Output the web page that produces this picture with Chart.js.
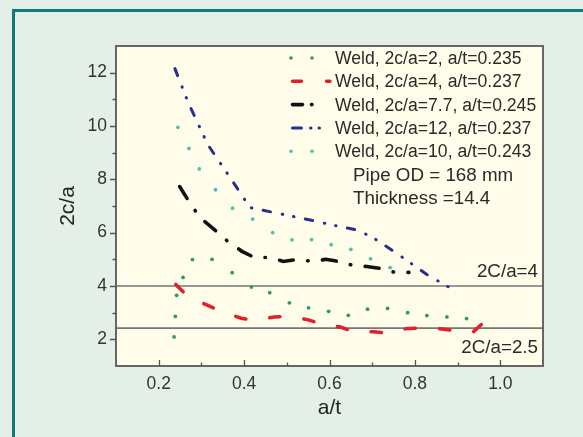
<!DOCTYPE html>
<html><head><meta charset="utf-8">
<script src="https://cdn.jsdelivr.net/npm/chart.js@4.4.1/dist/chart.umd.min.js"></script>
<style>html,body{margin:0;padding:0;background:#e4f0e7;}canvas{display:block;}</style>
</head><body>
<canvas id="c" width="583" height="437"></canvas>
<script>
// ---- data ----
const seriesLabels = [
  'Weld, 2c/a=2, a/t=0.235',
  'Weld, 2c/a=4, a/t=0.237',
  'Weld, 2c/a=7.7, a/t=0.245',
  'Weld, 2c/a=12, a/t=0.237',
  'Weld, 2c/a=10, a/t=0.243'
];
const greenX = [0.236,0.239,0.242,0.257,0.279,0.325,0.372,0.417,0.460,0.506,0.551,0.598,0.644,0.689,0.736,0.783,0.828,0.875,0.921];
const greenY = [2.09,2.86,3.65,4.32,4.99,5.00,4.50,3.96,3.75,3.37,3.18,3.05,2.90,3.13,3.16,3.00,2.89,2.84,2.78];
const redX = [0.240,0.268,0.315,0.346,0.393,0.426,0.471,0.500,0.548,0.579,0.626,0.657,0.703,0.734,0.779,0.810,0.857,0.889,0.936,0.972];
const redY = [4.06,3.61,3.27,3.05,2.79,2.71,2.84,2.86,2.74,2.59,2.46,2.28,2.28,2.24,2.40,2.42,2.40,2.34,2.27,2.79];
const blackX = [0.249,0.275,0.299,0.327,0.362,0.395,0.424,0.461,0.492,0.525,0.560,0.591,0.621,0.656,0.687,0.720,0.753,0.786];
const blackY = [7.73,7.06,6.53,6.16,5.67,5.30,5.07,5.07,4.92,5.00,4.92,5.00,4.92,4.77,4.73,4.66,4.51,4.51];
const blueX = [0.238,0.268,0.315,0.367,0.414,0.468,0.539,0.612,0.668,0.708,0.758,0.828,0.901];
const blueY = [12.15,10.92,9.30,8.07,6.94,6.76,6.53,6.27,6.09,5.75,5.22,4.43,3.76];
const cyanX = [0.245,0.271,0.295,0.333,0.373,0.420,0.467,0.512,0.558,0.604,0.650,0.696,0.742];
const cyanY = [9.95,9.16,8.39,7.61,6.92,6.51,6.00,5.73,5.74,5.55,5.37,5.02,4.69];
const refLineY = [4, 2.42];
const refLineLabels = ['2C/a=4', '2C/a=2.5'];
const noteLines = ['Pipe OD = 168 mm', 'Thickness =14.4'];
const xTickValues = [0.2, 0.4, 0.6, 0.8, 1.0];
const yTickValues = [2, 4, 6, 8, 10, 12];
const xMinorValues = [0.3, 0.5, 0.7, 0.9];
const yMinorValues = [3, 5, 7, 9, 11];
const xRange = [0.1, 1.1];
const yRange = [1, 13];

const toPts = (xs, ys) => xs.map((x, i) => ({x: x, y: ys[i]}));
const FONT = '"Liberation Sans", Arial, sans-serif';
const C = {green:'#2e9a62', red:'#e3202a', black:'#111111', blue:'#26308e', cyan:'#4cc0b6', ref:'#767676'};

const datasets = [
  {label: seriesLabels[0], data: toPts(greenX, greenY), showLine: false, pointRadius: 1.9,
   pointBackgroundColor: C.green, pointBorderColor: C.green, pointBorderWidth: 0, legendType: 'dots', legendColor: C.green},
  {label: seriesLabels[1], data: toPts(redX, redY), showLine: true, borderColor: C.red, borderWidth: 3.5,
   borderDash: [10.5, 24], borderCapStyle: 'round', pointRadius: 0, legendType: 'line', legendDash: [9, 25], legendLen: 39},
  {label: seriesLabels[2], data: toPts(blackX, blackY), showLine: true, borderColor: C.black, borderWidth: 3.6,
   borderDash: [14, 14.5, 0.5, 14.5], borderCapStyle: 'round', pointRadius: 0, legendType: 'line', legendDash: [10, 9, 0.5, 9], legendLen: 22},
  {label: seriesLabels[3], data: toPts(blueX, blueY), showLine: true, borderColor: C.blue, borderWidth: 3,
   borderDash: [7.5, 12, 0.5, 11, 0.5, 11.5], borderCapStyle: 'round', pointRadius: 0, legendType: 'line', legendDash: [9, 9, 0.5, 8, 0.5, 8], legendLen: 31},
  {label: seriesLabels[4], data: toPts(cyanX, cyanY), showLine: false, pointRadius: 1.9,
   pointBackgroundColor: C.cyan, pointBorderColor: C.cyan, pointBorderWidth: 0, legendType: 'dots', legendColor: C.cyan}
];
refLineY.forEach(v => datasets.push({label: 'ref', data: [{x: xRange[0], y: v}, {x: xRange[1], y: v}], showLine: true,
  borderColor: C.ref, borderWidth: 1.6, pointRadius: 0, isRef: true}));

const deco = {
  id: 'deco',
  beforeDraw(chart) {
    const {ctx, chartArea: a} = chart;
    ctx.save();
    ctx.fillStyle = '#e4f0e7';
    ctx.fillRect(0, 0, chart.width, chart.height);
    ctx.strokeStyle = '#127a77';
    ctx.lineWidth = 3;
    ctx.beginPath();
    ctx.moveTo(13.5, chart.height); ctx.lineTo(13.5, 10.5); ctx.lineTo(chart.width, 10.5);
    ctx.stroke();
    ctx.fillStyle = '#fffdea';
    ctx.fillRect(a.left, a.top, a.right - a.left, a.bottom - a.top);
    ctx.restore();
  },
  afterDraw(chart) {
    const {ctx, chartArea: a, scales} = chart;
    const xs = scales.x, ys = scales.y;
    ctx.save();
    // frame
    ctx.strokeStyle = '#666';
    ctx.lineWidth = 2;
    ctx.strokeRect(a.left, a.top, a.right - a.left, a.bottom - a.top);
    // ticks
    ctx.strokeStyle = '#555';
    ctx.lineWidth = 1.3;
    ctx.beginPath();
    yTickValues.forEach(v => { const p = Math.round(ys.getPixelForValue(v)) + 0.5; ctx.moveTo(a.left - 6, p); ctx.lineTo(a.left, p); });
    yMinorValues.forEach(v => { const p = Math.round(ys.getPixelForValue(v)) + 0.5; ctx.moveTo(a.left - 3.5, p); ctx.lineTo(a.left, p); });
    xTickValues.forEach(v => { const p = Math.round(xs.getPixelForValue(v)) + 0.5; ctx.moveTo(p, a.bottom); ctx.lineTo(p, a.bottom - 6); });
    xMinorValues.forEach(v => { const p = Math.round(xs.getPixelForValue(v)) + 0.5; ctx.moveTo(p, a.bottom); ctx.lineTo(p, a.bottom - 3.5); });
    ctx.stroke();
    // reference labels
    ctx.fillStyle = '#2a2a2a';
    ctx.font = '18.8px ' + FONT;
    ctx.textAlign = 'right';
    ctx.textBaseline = 'alphabetic';
    ctx.fillText(refLineLabels[0], a.right - 5, ys.getPixelForValue(refLineY[0]) - 9);
    ctx.fillText(refLineLabels[1], a.right - 5, ys.getPixelForValue(refLineY[1]) + 25);
    // legend
    const sx = 291, tx = 335, y0 = 64, dy = 23.3;
    ctx.font = '17.6px ' + FONT;
    ctx.textAlign = 'left';
    let row = 0;
    chart.data.datasets.forEach(ds => {
      if (ds.isRef) return;
      const by = y0 + row * dy, cy = by - 6;
      if (ds.legendType === 'dots') {
        ctx.fillStyle = ds.legendColor;
        [sx, sx + 21].forEach(x => { ctx.beginPath(); ctx.arc(x, cy, 1.8, 0, Math.PI * 2); ctx.fill(); });
      } else {
        ctx.strokeStyle = ds.borderColor;
        ctx.lineWidth = ds.borderWidth;
        ctx.lineCap = 'round';
        ctx.setLineDash(ds.legendDash);
        ctx.beginPath(); ctx.moveTo(sx + 1.5, cy); ctx.lineTo(sx + ds.legendLen, cy); ctx.stroke();
        ctx.setLineDash([]);
      }
      ctx.fillStyle = '#2a2a2a';
      ctx.fillText(ds.label, tx, by);
      row++;
    });
    ctx.font = '18.8px ' + FONT;
    noteLines.forEach(t => { ctx.fillText(t, 353, y0 + row * dy); row++; });
    ctx.restore();
  }
};

new Chart(document.getElementById('c'), {
  type: 'scatter',
  data: {datasets: datasets},
  options: {
    responsive: false,
    animation: false,
    devicePixelRatio: 1,
    events: [],
    layout: {padding: {left: 52, top: 46, right: 40, bottom: 0}},
    plugins: {legend: {display: false}, tooltip: {enabled: false}},
    scales: {
      x: {
        type: 'linear', min: xRange[0], max: xRange[1],
        afterBuildTicks: s => { s.ticks = xTickValues.map(v => ({value: v})); },
        afterFit: s => { s.height = 71; },
        grid: {display: false, drawTicks: false}, border: {display: false},
        ticks: {padding: 8, color: '#333', font: {family: FONT, size: 17.5}, callback: v => Number(v).toFixed(1)},
        title: {display: true, text: 'a/t', color: '#222', font: {family: FONT, size: 21}, padding: {top: 0, bottom: 16}}
      },
      y: {
        type: 'linear', min: yRange[0], max: yRange[1],
        afterBuildTicks: s => { s.ticks = yTickValues.map(v => ({value: v})); },
        afterFit: s => { s.width = 64; },
        grid: {display: false, drawTicks: false}, border: {display: false},
        ticks: {padding: 9, color: '#333', font: {family: FONT, size: 17.5}, callback: v => String(v)},
        title: {display: true, text: '2c/a', color: '#222', font: {family: FONT, size: 21}, padding: {top: 4, bottom: 0}}
      }
    }
  },
  plugins: [deco]
});
</script>
</body></html>
